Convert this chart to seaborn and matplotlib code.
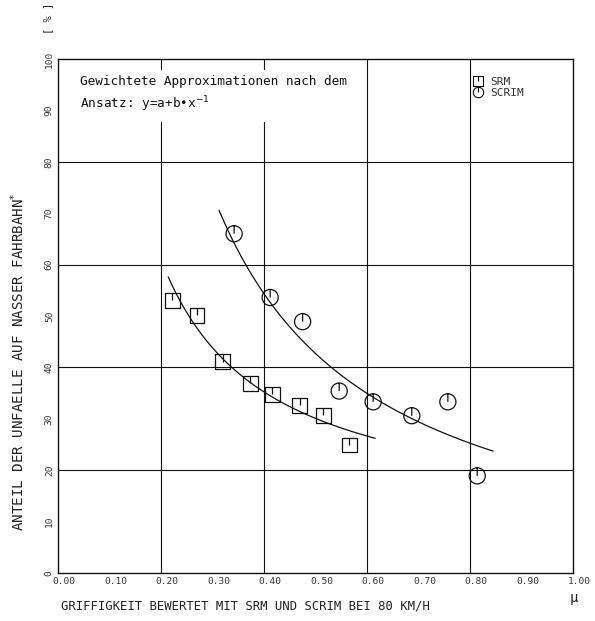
import numpy as np
import pandas as pd
import matplotlib
matplotlib.use("Agg")
import matplotlib.pyplot as plt
import matplotlib.transforms as mtrans
from matplotlib.path import Path
from matplotlib.lines import Line2D
import seaborn as sns

# ---------------- data ----------------
srm_x = [0.222, 0.270, 0.320, 0.373, 0.416, 0.469, 0.515, 0.566]
srm_y = [53.1, 50.1, 41.1, 36.9, 34.8, 32.6, 30.7, 24.9]

scrim_x = [0.342, 0.412, 0.475, 0.546, 0.612, 0.687, 0.757, 0.814]
scrim_y = [66.0, 53.6, 48.9, 35.4, 33.3, 30.6, 33.3, 18.9]

# weighted approximations y = a + b * x^-1 (coefficients and drawn range)
srm_fit_a, srm_fit_b = 9.48, 10.30
srm_fit_range = [0.214, 0.616]
scrim_fit_a, scrim_fit_b = -3.82, 23.26
scrim_fit_range = [0.3126, 0.845]

x_ticks = [0.0, 0.1, 0.2, 0.3, 0.4, 0.5, 0.6, 0.7, 0.8, 0.9, 1.0]
x_tick_labels = ["0.00", "0.10", "0.20", "0.30", "0.40", "0.50",
                 "0.60", "0.70", "0.80", "0.90", "1.00"]
y_ticks = [0, 10, 20, 30, 40, 50, 60, 70, 80, 90, 100]
y_tick_labels = ["0", "10", "20", "30", "40", "50", "60", "70", "80", "90", "100"]
grid_x = [0.2, 0.4, 0.6, 0.8]
grid_y = [20, 40, 60, 80]

series_labels = ["SRM", "SCRIM"]
annotation = "Gewichtete Approximationen nach dem\nAnsatz: y=a+b\u2022x$^{-1}$"
x_label = "GRIFFIGKEIT BEWERTET MIT SRM UND SCRIM BEI 80 KM/H"
y_label = "ANTEIL DER UNFAELLE AUF NASSER FAHRBAHN"
unit_label = "[ % ]"
mu_label = "\u00b5"

# ---------------- style ----------------
sns.set_style("white")
plt.rcParams["font.family"] = ["DejaVu Sans Mono", "DejaVu Sans"]
plt.rcParams["mathtext.fontset"] = "dejavusans"

INK = "#111111"

fig = plt.figure(figsize=(5.95, 6.21), dpi=100)
ax = fig.add_axes([58 / 595, 48 / 621, 515 / 595, 514 / 621])

# marker shapes: open square / circle with a short stroke from top to centre
_sq = Path([(-1, -1), (1, -1), (1, 1), (-1, 1), (-1, -1)],
           [Path.MOVETO, Path.LINETO, Path.LINETO, Path.LINETO, Path.CLOSEPOLY])
_stroke = Path([(0, 1), (0, 0)], [Path.MOVETO, Path.LINETO])
square_marker = Path.make_compound_path(_sq, _stroke)
circle_marker = Path.make_compound_path(Path.unit_circle(), _stroke)

# grid lines
for gx in grid_x:
    ax.axvline(gx, color=INK, lw=0.8, zorder=1)
for gy in grid_y:
    ax.axhline(gy, color=INK, lw=0.8, zorder=1)

# fitted curves
for (a, b, rng) in [(srm_fit_a, srm_fit_b, srm_fit_range),
                    (scrim_fit_a, scrim_fit_b, scrim_fit_range)]:
    xs = np.linspace(rng[0], rng[1], 200)
    df_fit = pd.DataFrame({"x": xs, "y": a + b / xs})
    sns.lineplot(data=df_fit, x="x", y="y", color=INK, lw=0.9, ax=ax,
                 sort=False, zorder=2)

# data points
df_srm = pd.DataFrame({"x": srm_x, "y": srm_y})
df_scrim = pd.DataFrame({"x": scrim_x, "y": scrim_y})
sns.scatterplot(data=df_srm, x="x", y="y", marker=square_marker, s=115,
                facecolor="none", edgecolor=INK, linewidth=0.9, ax=ax, zorder=3)
sns.scatterplot(data=df_scrim, x="x", y="y", marker=circle_marker, s=135,
                facecolor="none", edgecolor=INK, linewidth=0.9, ax=ax, zorder=3)

# axes limits, ticks
ax.set_xlim(0, 1.0)
ax.set_ylim(0, 100)
ax.set_xticks(x_ticks)
ax.set_xticks(np.arange(0.05, 1.0, 0.1), minor=True)
ax.set_yticks(y_ticks)
ax.set_yticks(np.arange(5, 100, 10), minor=True)
ax.set_xticklabels(x_tick_labels, fontsize=6.8, color="#333333")
ax.set_yticklabels(y_tick_labels, fontsize=6.8, rotation=90, va="center",
                   color="#333333")
ax.tick_params(axis="both", which="both", direction="in", length=4,
               width=0.8, color=INK)
ax.tick_params(axis="x", which="both", pad=3)
ax.tick_params(axis="y", which="both", pad=3)
off = mtrans.ScaledTranslation(6 / 100, 0, fig.dpi_scale_trans)
for lab in ax.get_xticklabels():
    lab.set_transform(lab.get_transform() + off)
ax.set_xlabel("")
ax.set_ylabel("")
for sp in ax.spines.values():
    sp.set_color(INK)
    sp.set_linewidth(1.0)
    sp.set_zorder(4)

# annotation text (white box interrupts grid lines)
ax.text((80 - 58) / 515, (573 - 75) / 514, annotation, transform=ax.transAxes,
        fontsize=9.2, ha="left", va="top", linespacing=1.45, color=INK,
        zorder=3.5,
        bbox=dict(boxstyle="square,pad=0.6", fc="white", ec="none"))

# legend
handles = [
    Line2D([], [], marker=square_marker, ls="none", markersize=7,
           mfc="none", mec=INK, mew=0.8),
    Line2D([], [], marker=circle_marker, ls="none", markersize=7.5,
           mfc="none", mec=INK, mew=0.8),
]
leg = ax.legend(handles, series_labels, loc="upper left",
                bbox_to_anchor=((472 - 58) / 515, (573 - 77) / 514),
                frameon=False, fontsize=8, handlelength=1.0,
                handletextpad=0.6, labelspacing=0.1, borderpad=0,
                borderaxespad=0)
for t in leg.get_texts():
    t.set_color("#333333")

# axis titles
fig.text(61 / 595, 1 - 606 / 621, x_label, fontsize=8.8, ha="left",
         va="center", color="#222222")
fig.text(18 / 595, 1 - 362 / 621, y_label + "$^{*}$", fontsize=10.2,
         rotation=90, ha="center", va="center", color="#222222")
fig.text(48 / 595, 1 - 18 / 621, unit_label, fontsize=7.5, rotation=90,
         ha="center", va="center", color="#222222")
fig.text(574 / 595, 1 - 598 / 621, mu_label, fontsize=10, ha="center",
         va="center", color="#222222")

fig.savefig("out.png", dpi=100)
